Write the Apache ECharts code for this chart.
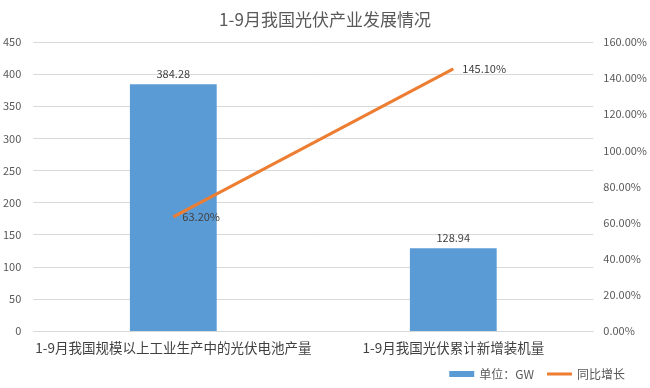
<!DOCTYPE html>
<html><head><meta charset="utf-8">
<script src="https://cdn.jsdelivr.net/npm/echarts@6/dist/echarts.min.js"></script>
<style>html,body{margin:0;padding:0;background:#fff}#c{width:650px;height:388px}</style>
</head><body><div id="c"></div>
<script>
const categories = ['1-9月我国规模以上工业生产中的光伏电池产量', '1-9月我国光伏累计新增装机量'];
const barValues = [384.28, 128.94];
const lineValues = [63.2, 145.1];
const leftTicks = [0, 450, 50];
const rightTicks = [0, 160, 20];
const titleText = '1-9月我国光伏产业发展情况';
const barName = '单位：GW';
const lineName = '同比增长';

const font = '"Noto Sans CJK SC", "Microsoft YaHei", sans-serif';
const chart = echarts.init(document.getElementById('c'));
chart.setOption({
  animation: false,
  textStyle: { fontFamily: font },
  title: { text: titleText, left: 'center', top: 6, textStyle: { fontSize: 17, fontWeight: 'normal', color: '#595959', fontFamily: font } },
  grid: { left: 33, right: 53, top: 42, bottom: 57 },
  legend: {
    right: 20, bottom: 3, itemGap: 13, itemWidth: 25, itemHeight: 6,
    textStyle: { fontSize: 12, color: '#595959' },
    data: [{ name: barName, icon: 'rect', itemStyle: { borderWidth: 0 } }, { name: lineName, icon: 'path://M0,0 L25,0 L25,3 L0,3 Z' }]
  },
  xAxis: {
    type: 'category', data: categories,
    axisLine: { lineStyle: { color: '#d9d9d9' } },
    axisTick: { show: false },
    axisLabel: { fontSize: 13.5, color: '#404040', margin: 10, interval: 0 }
  },
  yAxis: [
    { type: 'value', min: leftTicks[0], max: leftTicks[1], interval: leftTicks[2],
      axisLine: { show: false }, axisTick: { show: false },
      splitLine: { lineStyle: { color: '#d9d9d9' } },
      axisLabel: { fontSize: 11, color: '#595959', margin: 12 } },
    { type: 'value', min: rightTicks[0], max: rightTicks[1], interval: rightTicks[2],
      axisLine: { show: false }, axisTick: { show: false }, splitLine: { show: false },
      axisLabel: { fontSize: 11, color: '#595959', margin: 10, formatter: v => v.toFixed(2) + '%' } }
  ],
  series: [
    { name: barName, type: 'bar', data: barValues, barWidth: '31%',
      itemStyle: { color: '#5B9BD5' },
      label: { show: true, position: 'top', fontSize: 11, color: '#404040', formatter: p => p.value.toFixed(2) } },
    { name: lineName, type: 'line', yAxisIndex: 1, data: lineValues,
      symbol: 'circle', symbolSize: 0.1, showSymbol: true,
      lineStyle: { color: '#ED7D31', width: 3 }, itemStyle: { color: '#ED7D31' },
      label: { show: true, position: 'right', fontSize: 11, color: '#404040', distance: 9,
        formatter: p => p.value.toFixed(2) + '%' } }
  ]
});
</script></body></html>
